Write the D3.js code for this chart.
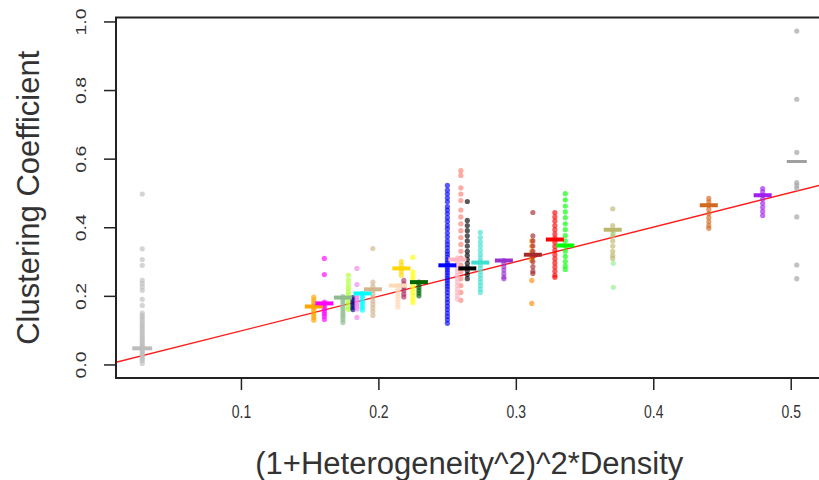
<!DOCTYPE html>
<html>
<head>
<meta charset="utf-8">
<script src="https://cdn.jsdelivr.net/npm/d3@7"></script>
<style>
  html, body { margin: 0; padding: 0; background: #fff; }
  svg { display: block; }
  text { font-family: "Liberation Sans", Arial, sans-serif; }
</style>
</head>
<body>
<svg id="chart" width="819" height="480"></svg>
<script>
// ---------- data ----------
const xTicks = [0.1, 0.2, 0.3, 0.4, 0.5];
const yTicks = [0.0, 0.2, 0.4, 0.6, 0.8, 1.0];
const xTitle = "(1+Heterogeneity^2)^2*Density";
const yTitle = "Clustering Coefficient";

const fitIntercept = -0.003;
const fitSlope = 1.008;

const groupNames = ["gray1","orange","magenta","yellowgreen","darkseagreen","navy","plum","cyan","tan",
  "peach","maroon","gold","yellow","darkgreen","blue","salmon","lightpink","black","turquoise","purple1",
  "darkorange","brown","red","lime","lightgreen","darkkhaki","chocolate","purple2","gray2"];
const groupX = [0.0282,0.153,0.1607,0.1782,0.1742,0.1815,0.1844,0.1884,0.196,
  0.2142,0.2185,0.2167,0.2251,0.2295,0.2502,0.26,0.2575,0.2647,0.2742,0.2913,
  0.3116,0.3124,0.3284,0.336,0.3709,0.3705,0.4404,0.4796,0.5044];
const groupMean = [0.047,0.169,0.178,null,0.195,null,null,0.207,0.219,
  0.23,null,0.28,null,0.24,0.289,null,0.306,0.28,0.297,0.303,
  null,0.32,0.364,0.347,null,0.393,0.464,0.493,0.592];

const ccGray1 = [0.497,0.337,0.306,0.289,0.245,0.236,0.226,0.216,0.19,0.172,0.15,0.143,0.137,0.131,0.124,0.118,
  0.112,0.106,0.1,0.094,0.088,0.082,0.077,0.071,0.066,0.061,0.056,0.051,0.046,0.041,0.036,0.031,0.026,0.021,0.016,0.011,0.003];
const ccOrange = [0.196,0.188,0.18,0.172,0.165,0.158,0.15,0.143,0.136,0.129];
const ccMagenta = [0.309,0.262,0.182,0.175,0.168,0.161,0.154,0.147,0.14,0.131];
const ccYellowgreen = [0.26,0.245,0.232,0.222,0.212,0.203,0.194,0.185,0.176,0.167,0.16];
const ccDarkseagreen = [0.198,0.19,0.183,0.175,0.167,0.16,0.152,0.145,0.138,0.13,0.122];
const ccNavy = [0.195,0.188,0.18,0.173,0.166,0.16];
const ccPlum = [0.28,0.233,0.2,0.192,0.185,0.178,0.17,0.162,0.137];
const ccCyan = [0.207,0.2,0.193,0.186,0.179,0.172,0.165,0.158];
const ccTan = [0.338,0.24,0.228,0.215,0.205,0.195,0.185,0.175,0.165,0.155,0.143];
const ccPeach = [0.23,0.222,0.214,0.206,0.198,0.19,0.182,0.174,0.166];
const ccMaroon = [0.245,0.235,0.225,0.215,0.205,0.197];
const ccGold = [0.3,0.29,0.28,0.27,0.26];
const ccYellow = [0.312,0.27,0.26,0.25,0.24,0.23,0.22,0.21,0.2,0.19,0.18];
const ccDarkgreen = [0.24,0.232,0.224,0.216,0.208,0.2];
const ccBlue = [0.522,0.508,0.497,0.485,0.474,0.46,0.45,0.44,0.428,0.417,0.405,0.395,0.383,0.372,0.36,0.35,0.34,0.33,
  0.322,0.313,0.305,0.297,0.29,0.283,0.275,0.268,0.26,0.252,0.244,0.236,0.228,0.22,0.21,0.2,0.19,0.18,0.17,0.16,0.15,0.14,0.13,0.12];
const ccSalmon = [0.565,0.551,0.515,0.497,0.478,0.45,0.43,0.41,0.39,0.37,0.35,0.33,0.31,0.29,0.27,0.25,0.23,0.21,0.187];
const ccLightpink = [0.31,0.3,0.29,0.28,0.27,0.26,0.25,0.24,0.23,0.22,0.21,0.2,0.19];
const ccBlack = [0.475,0.42,0.405,0.39,0.375,0.36,0.345,0.33,0.318,0.306,0.295,0.284,0.273,0.262,0.25];
const ccTurquoise = [0.385,0.37,0.357,0.345,0.333,0.321,0.31,0.3,0.29,0.28,0.27,0.26,0.25,0.24,0.23,0.22,0.21];
const ccPurple1 = [0.303,0.295,0.285,0.275,0.265,0.255,0.25];
const ccDarkorange = [0.36,0.345,0.33,0.318,0.31,0.303,0.245,0.178];
const ccBrown = [0.443,0.375,0.36,0.345,0.33,0.315,0.3,0.285,0.272,0.265];
const ccRed = [0.443,0.43,0.418,0.405,0.393,0.38,0.368,0.356,0.344,0.332,0.32,0.308,0.296,0.284,0.272,0.26,0.254];
const ccLime = [0.498,0.48,0.462,0.445,0.428,0.41,0.393,0.376,0.36,0.345,0.33,0.315,0.3,0.287,0.277];
const ccLightgreen = [0.382,0.295,0.225];
const ccDarkkhaki = [0.454,0.405,0.39,0.375,0.36,0.345,0.33,0.318,0.309];
const ccChocolate = [0.484,0.474,0.464,0.452,0.44,0.428,0.416,0.405,0.397];
const ccPurple2 = [0.513,0.503,0.493,0.482,0.47,0.458,0.446,0.434];
const ccGray2 = [0.972,0.773,0.618,0.53,0.522,0.513,0.43,0.29,0.25];

const groupValues = [ccGray1,ccOrange,ccMagenta,ccYellowgreen,ccDarkseagreen,ccNavy,ccPlum,ccCyan,ccTan,
  ccPeach,ccMaroon,ccGold,ccYellow,ccDarkgreen,ccBlue,ccSalmon,ccLightpink,ccBlack,ccTurquoise,ccPurple1,
  ccDarkorange,ccBrown,ccRed,ccLime,ccLightgreen,ccDarkkhaki,ccChocolate,ccPurple2,ccGray2];

// ---------- styles ----------
const palette = {
  gray1:"#bdbdbd", orange:"#ffa500", magenta:"#ff00ff", yellowgreen:"#adff2f", darkseagreen:"#8fbc8f",
  navy:"#000080", plum:"#ee82ee", cyan:"#00ffff", tan:"#d2b48c", peach:"#ffdab9", maroon:"#b03060",
  gold:"#ffd700", yellow:"#ffff00", darkgreen:"#006400", blue:"#0000ff", salmon:"#fa8072", lightpink:"#ffb6c1",
  black:"#000000", turquoise:"#40e0d0", purple1:"#9932cc", darkorange:"#ff8c00", brown:"#a52a2a", red:"#ff0000",
  lime:"#00ff00", lightgreen:"#90ee90", darkkhaki:"#bdb76b", chocolate:"#d2691e", purple2:"#a020f0", gray2:"#a0a0a0"
};

// ---------- layout ----------
const W = 819, H = 480;
const plotL = 116, plotR = 822.6, plotT = 17.5, plotB = 378;
const x = d3.scaleLinear().domain([0.0091, 0.5232]).range([plotL, plotR]);
const y = d3.scaleLinear().domain([-0.0395, 1.0115]).range([plotB, plotT]);

const svg = d3.select("#chart");
svg.append("rect").attr("width", W).attr("height", H).attr("fill", "#fff");

svg.append("defs").append("clipPath").attr("id", "plotclip")
  .append("rect").attr("x", plotL).attr("y", plotT).attr("width", plotR - plotL).attr("height", plotB - plotT);

const plot = svg.append("g").attr("clip-path", "url(#plotclip)");

// regression line
const xd = x.domain();
plot.append("line")
  .attr("x1", x(xd[0])).attr("y1", y(fitIntercept + fitSlope * xd[0]))
  .attr("x2", x(xd[1])).attr("y2", y(fitIntercept + fitSlope * xd[1]))
  .attr("stroke", "#ff1a1a").attr("stroke-width", 1.4);

// points
const groups = groupNames.map((n, i) => ({ name: n, x: groupX[i], mean: groupMean[i], values: groupValues[i] }));
groups.forEach(g => {
  plot.append("g").selectAll("circle").data(g.values).join("circle")
    .attr("cx", x(g.x)).attr("cy", d => y(d)).attr("r", 2.6)
    .attr("fill", palette[g.name]).attr("fill-opacity", 0.65);
});
// mean bars
groups.filter(g => g.mean !== null).forEach(g => {
  const isGray = g.name.startsWith("gray");
  const hw = isGray ? 10 : 9;
  plot.append("line")
    .attr("x1", x(g.x) - hw).attr("x2", x(g.x) + hw)
    .attr("y1", y(g.mean)).attr("y2", y(g.mean))
    .attr("stroke", palette[g.name]).attr("stroke-width", g.name === "gray2" ? 3 : 4);
});

// axes
const ax = svg.append("g").attr("transform", `translate(0,${plotB})`)
  .call(d3.axisBottom(x).tickValues(xTicks).tickSize(12).tickFormat(d3.format(".1f")));
ax.attr("font-size", null).attr("font-family", null);
ax.select(".domain").remove();
ax.selectAll("line").attr("stroke", "#222").attr("stroke-width", 1.5);
ax.selectAll("text").style("font-size", "14px").attr("fill", "#333").attr("dy", null)
  .attr("y", 0).attr("transform", "translate(0,40) scale(1,1.25)");

const ay = svg.append("g").attr("transform", `translate(${plotL},0)`)
  .call(d3.axisLeft(y).tickValues(yTicks).tickSize(12).tickFormat(d3.format(".1f")));
ay.attr("font-size", null).attr("font-family", null);
ay.select(".domain").remove();
ay.selectAll("line").attr("stroke", "#222").attr("stroke-width", 1.5);
ay.selectAll("text").style("font-size", "15px").attr("fill", "#333")
  .attr("x", null).attr("dy", null)
  .attr("text-anchor", "middle")
  .attr("transform", "translate(-30,0) rotate(-90) scale(1.3,1)")
  .attr("y", 0);

// box
svg.append("rect").attr("x", plotL).attr("y", plotT).attr("width", plotR - plotL).attr("height", plotB - plotT)
  .attr("fill", "none").attr("stroke", "#222").attr("stroke-width", 2);

// titles
svg.append("text").attr("x", (plotL + plotR) / 2).attr("y", 474)
  .attr("text-anchor", "middle").style("font-size", "31px").attr("fill", "#333").text(xTitle);
svg.append("text").attr("transform", `translate(39,${(plotT + plotB) / 2}) rotate(-90)`)
  .attr("text-anchor", "middle").style("font-size", "31px").attr("fill", "#333").text(yTitle);
</script>
</body>
</html>
